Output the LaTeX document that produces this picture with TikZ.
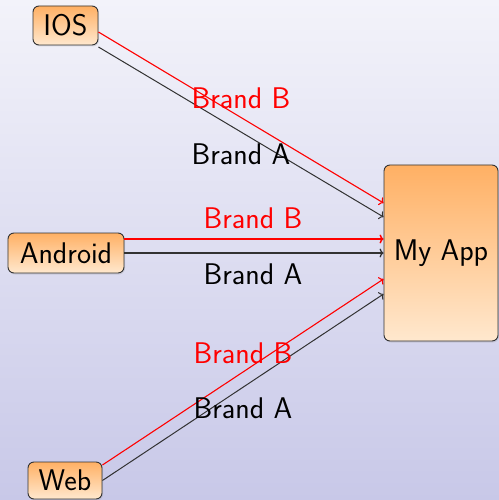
\documentclass[tikz,border=0pt]{standalone}
\usepackage{fontspec}
\usetikzlibrary{shadows,arrows.meta}
\definecolor{bgtop}{RGB}{243,243,250}
\definecolor{bgbot}{RGB}{200,200,232}
\definecolor{boxtop}{RGB}{255,176,100}
\definecolor{boxbot}{RGB}{255,232,206}
\definecolor{edgegray}{RGB}{50,50,50}
\tikzset{
  box/.style={draw=edgegray, line width=0.9bp, rounded corners=6bp,
    top color=boxtop, bottom color=boxbot, inner sep=0pt,
    drop shadow={opacity=0.2, shadow xshift=1bp, shadow yshift=-1.5bp},
    font=\sffamily\fontsize{30}{34}\selectfont},
  lbl/.style={font=\sffamily\fontsize{30}{34}\selectfont, inner sep=0pt},
  tip/.style={-{To[length=4bp,width=9bp]}},
  brandb/.style={draw=red, line width=1.1bp, tip},
  branda/.style={draw=edgegray, line width=1bp, tip}
}
\begin{document}
\begin{tikzpicture}[x=1bp, y=-1bp]
\useasboundingbox (0,0) rectangle (499,500);
\shade[top color=bgtop, bottom color=bgbot] (0,0) rectangle (499,500);
\node[box, minimum width=65bp, minimum height=39bp] (ios) at (65.5,25.5) {IOS};
\node[box, minimum width=116bp, minimum height=40bp] (android) at (66,253) {Android};
\node[box, minimum width=74bp, minimum height=37bp] (web) at (65,480.5) {Web};
\node[box, minimum width=114bp, minimum height=176bp] (app) at (441,253) {My App};
\draw[brandb] ([yshift=-6.5bp]ios.east) -- ([yshift=50bp]app.west);
\draw[branda] ([yshift=-21.5bp]ios.east) -- ([yshift=36bp]app.west);
\draw[brandb, line width=1.5bp] ([yshift=14bp]android.east) -- ([yshift=14bp]app.west);
\draw[branda, line width=1.3bp] (android.east) -- (app.west);
\draw[brandb] ([yshift=15.5bp]web.east) -- ([yshift=-26bp]app.west);
\draw[branda] (web.east) -- ([yshift=-41bp]app.west);
\node[lbl, red] (lb1) at (241,98) {Brand B};
\node[lbl] (la1) at (241,154) {Brand A};
\node[lbl, red] (lb2) at (253,218) {Brand B};
\node[lbl] (la2) at (253,274) {Brand A};
\node[lbl, red] (lb3) at (243,353) {Brand B};
\node[lbl] (la3) at (243,408) {Brand A};
\end{tikzpicture}
\end{document}
